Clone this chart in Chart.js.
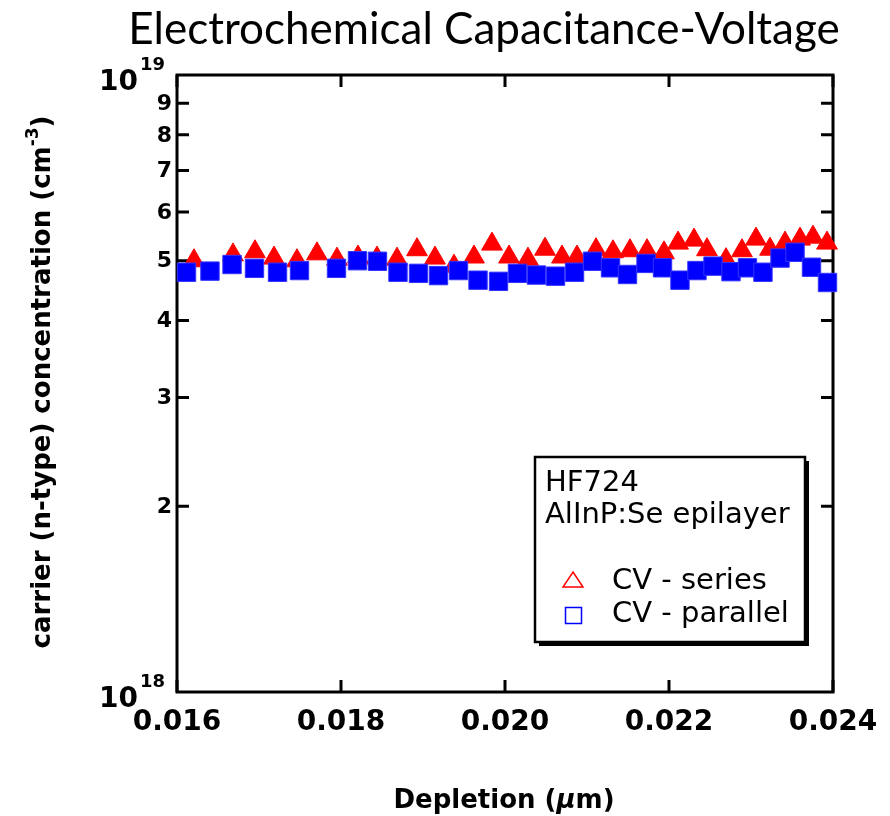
<!DOCTYPE html>
<html>
<head>
<meta charset="utf-8">
<title>Electrochemical Capacitance-Voltage</title>
<script src="https://cdn.jsdelivr.net/npm/chart.js@4.4.1/dist/chart.umd.min.js"></script>
<style>
  html, body { margin: 0; padding: 0; background: #fff; }
  #wrap { width: 890px; height: 816px; position: relative; }
</style>
</head>
<body>
<div id="wrap"><canvas id="ecv"></canvas></div>
<script>
// depletion depth (um) and carrier concentration (cm^-3), series model
const seriesDepth = [0.016207, 0.016683, 0.016951, 0.017183, 0.017463, 0.017707, 0.017951, 0.018207,
    0.018439, 0.018683, 0.018927, 0.019146, 0.019378, 0.019622, 0.019841, 0.020049, 0.020280, 0.020488,
    0.020695, 0.020878, 0.021110, 0.021317, 0.021524, 0.021732, 0.021939, 0.022110, 0.022305, 0.022463,
    0.022695, 0.022890, 0.023061, 0.023232, 0.023415, 0.023598, 0.023756, 0.023927];
const seriesConc = [5.00e18, 5.11e18, 5.17e18, 5.05e18, 5.00e18, 5.13e18, 5.03e18, 5.07e18,
    5.05e18, 5.03e18, 5.21e18, 5.05e18, 4.90e18, 5.07e18, 5.32e18, 5.07e18, 5.03e18, 5.22e18,
    5.07e18, 5.07e18, 5.21e18, 5.17e18, 5.19e18, 5.19e18, 5.15e18, 5.34e18, 5.40e18, 5.21e18,
    5.02e18, 5.19e18, 5.42e18, 5.22e18, 5.34e18, 5.42e18, 5.46e18, 5.34e18];

// parallel model
const parallelDepth = [0.016116, 0.016402, 0.016671, 0.016945, 0.017226, 0.017494, 0.017945, 0.018201,
    0.018445, 0.018695, 0.018945, 0.019189, 0.019433, 0.019671, 0.019921, 0.020152, 0.020384, 0.020616,
    0.020848, 0.021067, 0.021287, 0.021494, 0.021720, 0.021921, 0.022134, 0.022341, 0.022537, 0.022756,
    0.022957, 0.023146, 0.023354, 0.023537, 0.023738, 0.023933];
const parallelConc = [4.79e18, 4.81e18, 4.93e18, 4.86e18, 4.79e18, 4.82e18, 4.86e18, 5.00e18,
    4.99e18, 4.79e18, 4.77e18, 4.73e18, 4.82e18, 4.65e18, 4.63e18, 4.77e18, 4.74e18, 4.72e18,
    4.79e18, 4.99e18, 4.87e18, 4.75e18, 4.95e18, 4.87e18, 4.65e18, 4.82e18, 4.90e18, 4.80e18,
    4.87e18, 4.79e18, 5.05e18, 5.16e18, 4.88e18, 4.61e18];

const xTicks = [0.016, 0.018, 0.020, 0.022, 0.024];
const xTickLabels = ['0.016', '0.018', '0.020', '0.022', '0.024'];
const yTicks = [2e18, 3e18, 4e18, 5e18, 6e18, 7e18, 8e18, 9e18];
const yTickLabels = ['2', '3', '4', '5', '6', '7', '8', '9'];
const yDecades = [1e18, 1e19];
const yDecadeExp = ['18', '19'];

const sampleLines = ['HF724', 'AlInP:Se epilayer'];
const seriesNames = ['CV - series', 'CV - parallel'];

const RED = '#ff0000';
const BLUE = '#0000ff';
const FONT = '"DejaVu Sans", sans-serif';

function toPoints(xs, ys) {
    return xs.map((x, i) => ({ x: x, y: ys[i] }));
}

// draws a run of text pieces left to right, each piece may be raised
function drawRuns(ctx, runs, x, y) {
    let cx = x;
    runs.forEach(r => {
        ctx.font = r.font;
        ctx.fillText(r.text, cx, y - (r.rise || 0));
        cx += ctx.measureText(r.text).width;
    });
}
function runsWidth(ctx, runs) {
    let w = 0;
    runs.forEach(r => { ctx.font = r.font; w += ctx.measureText(r.text).width; });
    return w;
}

const framePlugin = {
    id: 'frame',
    beforeDatasetsDraw(chart) {
        const ctx = chart.ctx;
        const a = chart.chartArea;
        const xs = chart.scales.x, ys = chart.scales.y;
        ctx.save();
        ctx.strokeStyle = '#000';
        ctx.fillStyle = '#000';
        ctx.lineWidth = 3;
        ctx.strokeRect(a.left, a.top, a.right - a.left, a.bottom - a.top);

        // inward ticks
        const tl = 12;
        ctx.beginPath();
        yTicks.forEach(v => {
            const py = ys.getPixelForValue(v);
            ctx.moveTo(a.left, py); ctx.lineTo(a.left + tl, py);
            ctx.moveTo(a.right, py); ctx.lineTo(a.right - tl, py);
        });
        xTicks.forEach(v => {
            const px = xs.getPixelForValue(v);
            ctx.moveTo(px, a.bottom); ctx.lineTo(px, a.bottom - tl);
            ctx.moveTo(px, a.top); ctx.lineTo(px, a.top + tl);
        });
        ctx.stroke();

        // y tick labels
        ctx.font = 'bold 22px ' + FONT;
        ctx.textAlign = 'right';
        ctx.textBaseline = 'middle';
        yTicks.forEach((v, i) => {
            ctx.fillText(yTickLabels[i], a.left - 5, ys.getPixelForValue(v) + 1);
        });
        ctx.textBaseline = 'alphabetic';
        yDecades.forEach((v, i) => {
            const py = ys.getPixelForValue(v);
            ctx.textAlign = 'right';
            ctx.font = 'bold 28px ' + FONT;
            ctx.fillText('10', a.left - 39, py + 15);
            ctx.textAlign = 'left';
            ctx.font = 'bold 18px ' + FONT;
            ctx.fillText(yDecadeExp[i], a.left - 37, py - 5);
        });

        // x tick labels
        ctx.font = 'bold 28px ' + FONT;
        ctx.textAlign = 'center';
        xTicks.forEach((v, i) => {
            ctx.fillText(xTickLabels[i], xs.getPixelForValue(v), a.bottom + 38);
        });

        // x axis title
        ctx.textAlign = 'left';
        const xRuns = [
            { text: 'Depletion (', font: 'bold 26px ' + FONT },
            { text: '\u03bc', font: 'italic bold 26px ' + FONT },
            { text: 'm)', font: 'bold 26px ' + FONT }
        ];
        drawRuns(ctx, xRuns, 504 - runsWidth(ctx, xRuns) / 2, 808);

        // y axis title, rotated
        const yRuns = [
            { text: 'carrier (n-type) concentration (cm', font: 'bold 26px ' + FONT },
            { text: '-3', font: 'bold 17px ' + FONT, rise: 12 },
            { text: ')', font: 'bold 26px ' + FONT }
        ];
        ctx.translate(50, 382);
        ctx.rotate(-Math.PI / 2);
        drawRuns(ctx, yRuns, -runsWidth(ctx, yRuns) / 2, 0);
        ctx.restore();

        // chart title
        ctx.save();
        ctx.fillStyle = '#000';
        ctx.font = '44px Lato, sans-serif';
        ctx.textAlign = 'center';
        ctx.fillText('Electrochemical Capacitance-Voltage', 484, 44);
        ctx.restore();
    },
    afterDatasetsDraw(chart) {
        const ctx = chart.ctx;
        const bx = 535, by = 457, bw = 270, bh = 185;
        ctx.save();
        ctx.fillStyle = '#000';
        ctx.fillRect(bx + 4, by + 4, bw, bh);
        ctx.fillStyle = '#fff';
        ctx.fillRect(bx, by, bw, bh);
        ctx.strokeStyle = '#000';
        ctx.lineWidth = 2.5;
        ctx.strokeRect(bx, by, bw, bh);

        ctx.fillStyle = '#000';
        ctx.font = '29px ' + FONT;
        ctx.textAlign = 'left';
        ctx.fillText(sampleLines[0], bx + 10, 491);
        ctx.fillText(sampleLines[1], bx + 10, 523);
        ctx.fillText(seriesNames[0], 612, 589);
        ctx.fillText(seriesNames[1], 612, 622);

        ctx.lineWidth = 1.5;
        ctx.strokeStyle = RED;
        ctx.beginPath();
        ctx.moveTo(573, 572);
        ctx.lineTo(583, 587);
        ctx.lineTo(563, 587);
        ctx.closePath();
        ctx.stroke();
        ctx.strokeStyle = BLUE;
        ctx.strokeRect(565.5, 607.5, 16, 16);
        ctx.restore();
    }
};

new Chart(document.getElementById('ecv'), {
    type: 'scatter',
    data: {
        datasets: [
            {
                label: seriesNames[1],
                data: toPoints(parallelDepth, parallelConc),
                pointStyle: 'rect',
                pointRadius: 13,
                backgroundColor: BLUE,
                borderColor: '#3333ff',
                borderWidth: 1,
                order: 0,
                clip: false
            },
            {
                label: seriesNames[0],
                data: toPoints(seriesDepth, seriesConc),
                pointStyle: 'triangle',
                pointRadius: 12,
                backgroundColor: RED,
                borderColor: RED,
                borderWidth: 1,
                order: 1,
                clip: false
            }
        ]
    },
    options: {
        responsive: true,
        maintainAspectRatio: false,
        animation: false,
        layout: { padding: { left: 177, right: 57, top: 75, bottom: 124 } },
        scales: {
            x: { type: 'linear', min: 0.016, max: 0.024, display: false },
            y: { type: 'logarithmic', min: 1e18, max: 1e19, display: false }
        },
        plugins: {
            legend: { display: false },
            tooltip: { enabled: false }
        }
    },
    plugins: [framePlugin]
});
</script>
</body>
</html>
